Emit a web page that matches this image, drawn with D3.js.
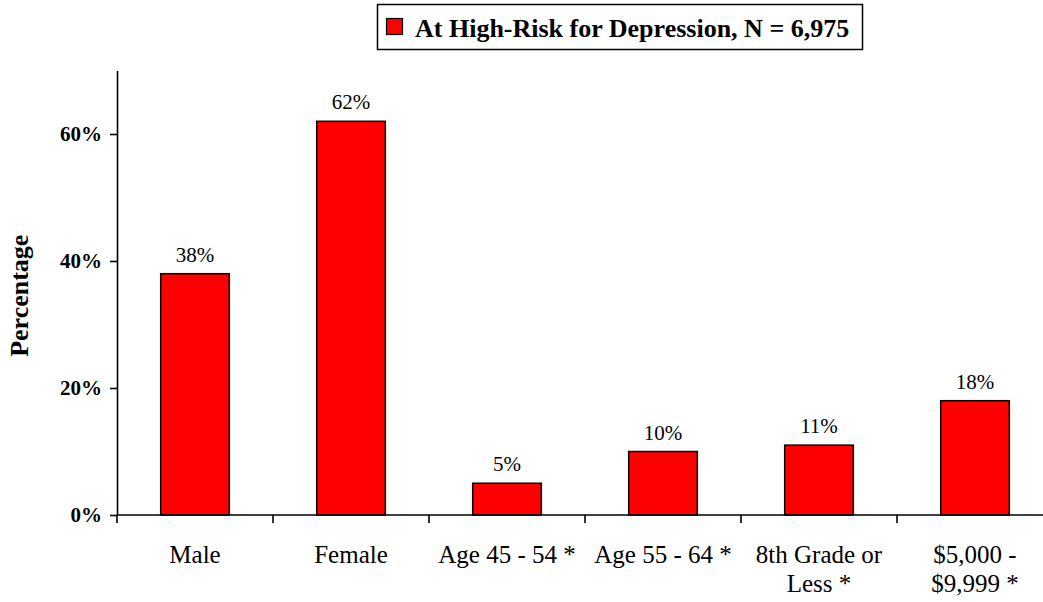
<!DOCTYPE html>
<html>
<head>
<meta charset="utf-8">
<script src="https://cdn.jsdelivr.net/npm/d3@7"></script>
<style>
  html, body { margin: 0; padding: 0; background: #fff; }
  svg { display: block; font-family: "Liberation Serif", "Times New Roman", serif; }
</style>
</head>
<body>
<svg id="chart" width="1043" height="602"></svg>
<script>
// Share of respondents at high risk for depression, by group
const categories = ["Male", "Female", "Age 45 - 54 *", "Age 55 - 64 *", "8th Grade or Less *", "$5,000 - $9,999 *"];
const values = [0.38, 0.62, 0.05, 0.10, 0.11, 0.18];
const yTicks = [0, 0.2, 0.4, 0.6];
const seriesName = "At High-Risk for Depression, N = 6,975";
const yTitle = "Percentage";

const svg = d3.select("#chart");
const plot = { left: 117, right: 1053, top: 70.5, bottom: 515 };

const x = d3.scaleBand()
  .domain(categories)
  .range([plot.left, plot.right])
  .paddingInner(0.56)
  .paddingOuter(0.28);

const y = d3.scaleLinear()
  .domain([0, 0.7])
  .range([plot.bottom, plot.top]);

const fmt = d3.format(".0%");

// Bars
svg.append("g").selectAll("rect")
  .data(values)
  .join("rect")
  .attr("x", (d, i) => x(categories[i]))
  .attr("y", d => y(d))
  .attr("width", x.bandwidth())
  .attr("height", d => y(0) - y(d))
  .attr("fill", "#ff0000")
  .attr("stroke", "#000")
  .attr("stroke-width", 1.5);

// Value labels
svg.append("g").selectAll("text")
  .data(values)
  .join("text")
  .attr("x", (d, i) => x(categories[i]) + x.bandwidth() / 2)
  .attr("y", d => y(d) - 12)
  .attr("text-anchor", "middle")
  .attr("font-size", 21)
  .text(d => fmt(d));

// Y axis
const yAxis = svg.append("g")
  .attr("transform", `translate(${plot.left},0)`)
  .call(d3.axisLeft(y).tickValues(yTicks).tickFormat(fmt).tickSize(7).tickSizeOuter(0).tickPadding(8));
yAxis.select(".domain").attr("stroke", "#000").attr("stroke-width", 1.6);
yAxis.selectAll(".tick line").attr("stroke", "#000").attr("stroke-width", 1.6);
yAxis.selectAll(".tick text")
  .attr("font-family", "Liberation Serif, Times New Roman, serif")
  .attr("font-size", 21)
  .attr("font-weight", "bold")
  .attr("fill", "#000");

// X axis with ticks on category boundaries
const xAxis = svg.append("g");
xAxis.append("line")
  .attr("x1", plot.left).attr("x2", plot.right)
  .attr("y1", y(0)).attr("y2", y(0))
  .attr("stroke", "#000").attr("stroke-width", 1.6);
const boundaries = d3.range(categories.length + 1).map(i => plot.left + i * x.step());
xAxis.selectAll("line.tick")
  .data(boundaries)
  .join("line")
  .attr("class", "tick")
  .attr("x1", d => d).attr("x2", d => d)
  .attr("y1", y(0)).attr("y2", y(0) + 8)
  .attr("stroke", "#000").attr("stroke-width", 1.6);

// Category labels, wrapped to the band step
const labels = xAxis.selectAll("text.cat")
  .data(categories)
  .join("text")
  .attr("class", "cat")
  .attr("text-anchor", "middle")
  .attr("font-size", 25)
  .attr("y", y(0) + 48);

labels.each(function (d) {
  const t = d3.select(this);
  const cx = x(d) + x.bandwidth() / 2;
  const words = d.split(" ");
  const maxW = x.step();
  let lines = [];
  let cur = [];
  let probe = t.append("tspan");
  for (const w of words) {
    const trial = cur.concat([w]).join(" ");
    probe.text(trial);
    if (probe.node().getComputedTextLength() > maxW && cur.length) {
      lines.push(cur.join(" "));
      cur = [w];
    } else {
      cur.push(w);
    }
  }
  if (cur.length) lines.push(cur.join(" "));
  probe.remove();
  lines.forEach((line, i) => {
    t.append("tspan")
      .attr("x", cx)
      .attr("dy", i === 0 ? 0 : 28.5)
      .text(line);
  });
});

// Y axis title
svg.append("text")
  .attr("transform", `translate(28,${(plot.top + plot.bottom) / 2 + 3}) rotate(-90)`)
  .attr("text-anchor", "middle")
  .attr("font-size", 26)
  .attr("font-weight", "bold")
  .text(yTitle);

// Legend
const legend = svg.append("g");
legend.append("rect")
  .attr("x", 377.5).attr("y", 4.5)
  .attr("width", 485).attr("height", 45)
  .attr("fill", "#fff")
  .attr("stroke", "#000").attr("stroke-width", 1.5);
legend.append("rect")
  .attr("x", 386.5).attr("y", 18.5)
  .attr("width", 16).attr("height", 16)
  .attr("fill", "#ff0000")
  .attr("stroke", "#000").attr("stroke-width", 1.2);
legend.append("text")
  .attr("x", 415).attr("y", 37)
  .attr("font-size", 26)
  .attr("font-weight", "bold")
  .text(seriesName);
</script>
</body>
</html>
